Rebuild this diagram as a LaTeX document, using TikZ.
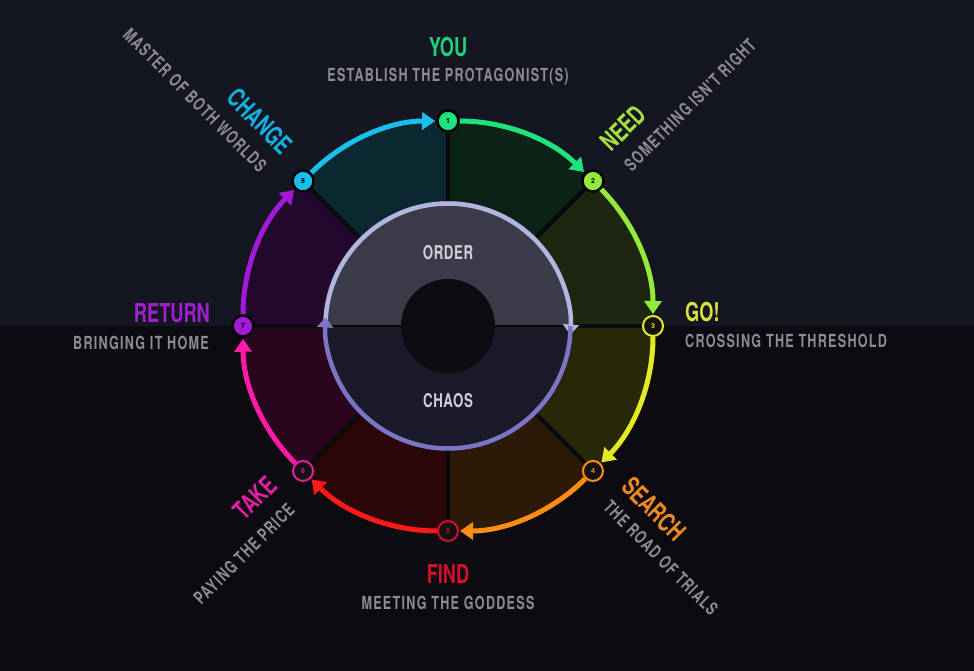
\documentclass[tikz,border=0pt]{standalone}
\usepackage{fontspec}
\setmainfont{TeX Gyre Heros}
\newfontfamily\lblfont[FakeStretch=0.70]{TeX Gyre Heros}
\newfontfamily\subfont[FakeStretch=0.70, LetterSpace=7]{TeX Gyre Heros}
\newfontfamily\hubfont[FakeStretch=0.70, LetterSpace=3]{TeX Gyre Heros}
\usetikzlibrary{arrows.meta}

% stage colours
\definecolor{cYou}{HTML}{1EE27C}
\definecolor{cNeed}{HTML}{93EA3A}
\definecolor{cGo}{HTML}{E3EA22}
\definecolor{cSearch}{HTML}{FF8C14}
\definecolor{cFind}{HTML}{FF1A1A}
\definecolor{cTake}{HTML}{FF1AA8}
\definecolor{cReturn}{HTML}{A21AD8}
\definecolor{cChange}{HTML}{19BFEA}
% label colours
\definecolor{tYou}{HTML}{1FD27A}
\definecolor{tNeed}{HTML}{A5E03E}
\definecolor{tGo}{HTML}{D9E33A}
\definecolor{tSearch}{HTML}{F08A20}
\definecolor{tFind}{HTML}{D0102C}
\definecolor{tTake}{HTML}{E020A0}
\definecolor{tReturn}{HTML}{A020D0}
\definecolor{tChange}{HTML}{10B0E0}
\definecolor{subgray}{HTML}{8C8C98}
% wedge fills
\definecolor{wA}{HTML}{0B2316}
\definecolor{wB}{HTML}{1C2610}
\definecolor{wC}{HTML}{282808}
\definecolor{wD}{HTML}{2C1A07}
\definecolor{wE}{HTML}{2A0608}
\definecolor{wF}{HTML}{2A061E}
\definecolor{wG}{HTML}{22082C}
\definecolor{wH}{HTML}{0B2730}
% backgrounds and hub
\definecolor{bgTop}{HTML}{141622}
\definecolor{bgBot}{HTML}{0B0B10}
\definecolor{orderFill}{HTML}{3B3B4A}
\definecolor{chaosFill}{HTML}{1A1A28}
\definecolor{hubFill}{HTML}{0C0C12}
\definecolor{ringTop}{HTML}{B4B4E0}
\definecolor{ringBot}{HTML}{7C74C4}
\definecolor{sepDark}{HTML}{0A0A0C}
\definecolor{holeFill}{HTML}{121214}
\definecolor{hubLabel}{HTML}{D0D0DA}

\tikzset{
  title/.style={inner sep=0pt, font=\lblfont\bfseries\fontsize{26}{26}\selectfont},
  subtitle/.style={inner sep=0pt, text=subgray, font=\subfont\bfseries\fontsize{18}{18}\selectfont},
  hubtext/.style={inner sep=0pt, text=hubLabel, font=\hubfont\bfseries\fontsize{19}{19}\selectfont},
  solidstage/.style={circle, inner sep=0pt, minimum size=21pt, draw=black, line width=2.5pt, fill=#1,
    text=black, font=\bfseries\fontsize{7}{7}\selectfont},
  ringstage/.style={circle, inner sep=0pt, minimum size=20pt, draw=#1, line width=2pt, fill=holeFill,
    text=#1, font=\bfseries\fontsize{7}{7}\selectfont},
  journey/.style={line width=5pt, -{Triangle[length=13pt,width=17pt]}, bend left=22.5, looseness=0.88, shorten >=1pt},
  separator/.style={draw=sepDark, line width=4pt},
  cyclearrow/.style={line width=4.5pt, -{Triangle[length=10pt,width=16pt]}}
}

\begin{document}
\begin{tikzpicture}[x=1pt,y=1pt]
  \useasboundingbox (-448,-345) rectangle (526,326);
  % two-tone background
  \fill[bgTop] (-448,0) rectangle (526,326);
  \fill[bgBot] (-448,-345) rectangle (526,0);

  % coloured wedges of the wheel
  \fill[wA] (0,0) -- (90:205pt) arc[start angle=90, end angle=45, radius=205pt] -- cycle;
  \fill[wB] (0,0) -- (45:205pt) arc[start angle=45, end angle=0, radius=205pt] -- cycle;
  \fill[wC] (0,0) -- (0:205pt) arc[start angle=0, end angle=-45, radius=205pt] -- cycle;
  \fill[wD] (0,0) -- (-45:205pt) arc[start angle=-45, end angle=-90, radius=205pt] -- cycle;
  \fill[wE] (0,0) -- (-90:205pt) arc[start angle=-90, end angle=-135, radius=205pt] -- cycle;
  \fill[wF] (0,0) -- (-135:205pt) arc[start angle=-135, end angle=-180, radius=205pt] -- cycle;
  \fill[wG] (0,0) -- (180:205pt) arc[start angle=180, end angle=135, radius=205pt] -- cycle;
  \fill[wH] (0,0) -- (135:205pt) arc[start angle=135, end angle=90, radius=205pt] -- cycle;

  % radial separators
  \foreach \a in {90,45,0,-45,-90,-135,180,135}
    \draw[separator] (0,0) -- (\a:205pt);

  % the eight stages
  \node[solidstage=cYou]    (s1) at (90:205pt)   {1};
  \node[solidstage=cNeed]   (s2) at (45:205pt)   {2};
  \node[ringstage=cGo]      (s3) at (0:205pt)    {3};
  \node[ringstage=cSearch]  (s4) at (-45:205pt)  {4};
  \node[ringstage=tFind]    (s5) at (-90:205pt)  {5};
  \node[ringstage=tTake]    (s6) at (-135:205pt) {6};
  \node[solidstage=cReturn] (s7) at (180:205pt)  {7};
  \node[solidstage=cChange] (s8) at (135:205pt)  {8};

  % journey arrows, clockwise
  \draw[journey, cYou]    (s1) to (s2);
  \draw[journey, cNeed]   (s2) to (s3);
  \draw[journey, cGo]     (s3) to (s4);
  \draw[journey, cSearch] (s4) to (s5);
  \draw[journey, cFind]   (s5) to (s6);
  \draw[journey, cTake]   (s6) to (s7);
  \draw[journey, cReturn] (s7) to (s8);
  \draw[journey, cChange] (s8) to (s1);

  % order / chaos hub
  \fill[orderFill] (-125,0) arc[start angle=180, end angle=0, radius=125pt] -- cycle;
  \fill[chaosFill] (125,0) arc[start angle=0, end angle=-180, radius=125pt] -- cycle;
  \draw[sepDark, line width=2pt] (-123,0) -- (123,0);
  \fill[hubFill] (0,0) circle[radius=47pt];
  \coordinate (ringL) at (-122.5,0);
  \coordinate (ringR) at (122.5,0);
  \draw[cyclearrow, ringTop] (ringL) arc[start angle=180, end angle=-4, radius=122.5pt];
  \draw[cyclearrow, ringBot] (ringR) arc[start angle=0, end angle=-184, radius=122.5pt];
  \node[hubtext] (order) at (0,73) {ORDER};
  \node[hubtext] (chaos) at (0,-75) {CHAOS};

  % stage labels
  \node[title, text=tYou] (youT) at (0,279) {YOU};
  \node[subtitle] (youS) at (0,249) {ESTABLISH THE PROTAGONIST(S)};

  \node[title, text=tNeed, rotate=45] (needT) at (175,198) {NEED};
  \node[subtitle, rotate=45] (needS) at (242,221) {SOMETHING ISN'T RIGHT};

  \node[title, text=tGo, anchor=west] (goT) at (237,14) {GO!};
  \node[subtitle, anchor=west] (goS) at (237,-15) {CROSSING THE THRESHOLD};

  \node[title, text=tSearch, rotate=-45] (searchT) at (206,-183) {SEARCH};
  \node[subtitle, rotate=-45] (searchS) at (213,-232) {THE ROAD OF TRIALS};

  \node[title, text=tFind] (findT) at (0,-248) {FIND};
  \node[subtitle] (findS) at (0,-277) {MEETING THE GODDESS};

  \node[title, text=tTake, rotate=45] (takeT) at (-193,-172) {TAKE};
  \node[subtitle, rotate=45] (takeS) at (-204,-228) {PAYING THE PRICE};

  \node[title, text=tReturn, anchor=east] (returnT) at (-238,13) {RETURN};
  \node[subtitle, anchor=east] (returnS) at (-239,-17) {BRINGING IT HOME};

  \node[title, text=tChange, rotate=-45] (changeT) at (-188,205) {CHANGE};
  \node[subtitle, rotate=-45] (changeS) at (-253,226) {MASTER OF BOTH WORLDS};
\end{tikzpicture}
\end{document}
